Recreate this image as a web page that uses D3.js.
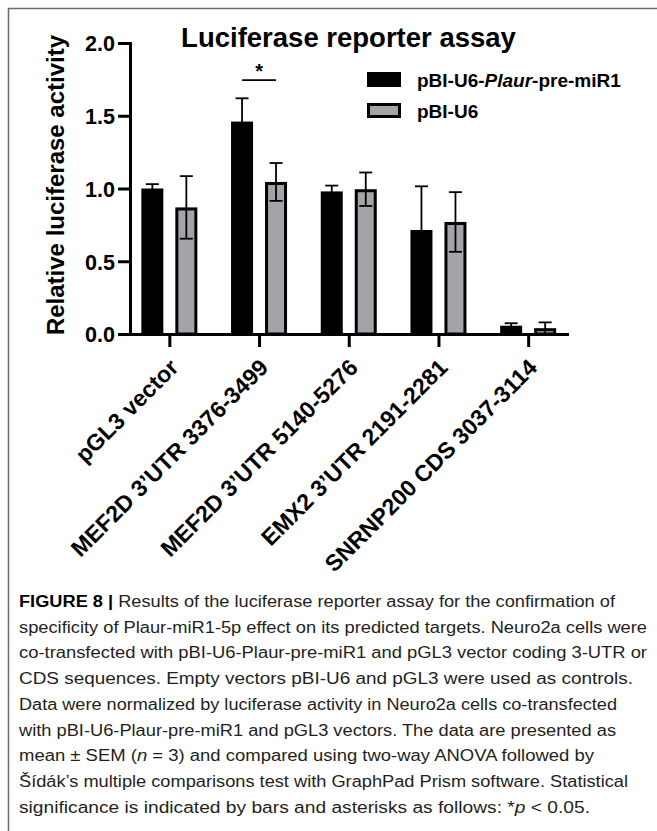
<!DOCTYPE html>
<meta charset="utf-8">
<style>
    body { margin: 0; background: #fff; }
    svg { display: block; font-family: "Liberation Sans", Arial, Helvetica, sans-serif; }
    .axis path, .axis line { stroke: #000; stroke-width: 3; }
    .axis text { font-weight: bold; fill: #000; }
    .err line { stroke: #000; stroke-width: 1.8; }
</style>
<svg width="657" height="831"></svg>
<script src="https://d3js.org/d3.v7.min.js"></script>
<script>

    // data
    var categories = ["pGL3 vector", "MEF2D 3\u2019UTR 3376-3499", "MEF2D 3\u2019UTR 5140-5276",
        "EMX2 3\u2019UTR 2191-2281", "SNRNP200 CDS 3037-3114"];
    var seriesNames = ["pBI-U6-Plaur-pre-miR1", "pBI-U6"];
    var miR1Mean = [1.00, 1.46, 0.98, 0.715, 0.057];
    var miR1Sem = [0.03, 0.16, 0.04, 0.30, 0.017];
    var u6Mean = [0.87, 1.045, 0.995, 0.77, 0.04];
    var u6Sem = [0.215, 0.13, 0.115, 0.205, 0.04];
    var yTicks = [0, 0.5, 1.0, 1.5, 2.0];
    var significance = [{category: categories[1], level: 1.745, label: "*"}];

    var captionLines = [
        "<b>FIGURE 8 |</b> Results of the luciferase reporter assay for the confirmation of",
        "specificity of Plaur-miR1-5p effect on its predicted targets. Neuro2a cells were",
        "co-transfected with pBI-U6-Plaur-pre-miR1 and pGL3 vector coding 3-UTR or",
        "CDS sequences. Empty vectors pBI-U6 and pGL3 were used as controls.",
        "Data were normalized by luciferase activity in Neuro2a cells co-transfected",
        "with pBI-U6-Plaur-pre-miR1 and pGL3 vectors. The data are presented as",
        "mean \u00b1 SEM (<i>n</i> = 3) and compared using two-way ANOVA followed by",
        "\u0160\u00edd\u00e1k\u2019s multiple comparisons test with GraphPad Prism software. Statistical",
        "significance is indicated by bars and asterisks as follows: *<i>p</i> < 0.05."
    ];
    var captionWidths = [596, 628, 628, 614, 598, 597, 575, 609, 571];

    var series = [
        {name: seriesNames[0], mean: miR1Mean, sem: miR1Sem, fill: "#000", dx: -17},
        {name: seriesNames[1], mean: u6Mean, sem: u6Sem, fill: "#a3a3a8", dx: 17}
    ];

    var svg = d3.select("svg");
    var barW = 22, capW = 13;

    var x = d3.scalePoint().domain(categories).range([130.5, 567]).padding(0.433),
        y = d3.scaleLinear().domain([0, 2]).range([334, 43]);

    // frame
    svg.append("path")
        .attr("d", "M8.5,831V8.5H657")
        .attr("fill", "none")
        .attr("stroke", "#6b6b6b")
        .attr("stroke-width", 1.5);

    // bars
    series.forEach(function(s) {
        var rows = categories.map(function(c, i) { return {cat: c, m: s.mean[i], e: s.sem[i]}; });
        var bw = s.fill === "#000" ? 0 : 1.5;
        svg.append("g").selectAll("rect")
            .data(rows)
            .enter().append("rect")
            .attr("x", function(d) { return x(d.cat) + s.dx - barW / 2 + bw; })
            .attr("y", function(d) { return y(d.m) + bw; })
            .attr("width", barW - 2 * bw)
            .attr("height", function(d) { return y(0) - y(d.m) - bw; })
            .attr("fill", s.fill)
            .attr("stroke", bw ? "#000" : "none")
            .attr("stroke-width", 3);
    });

    // error bars
    series.forEach(function(s) {
        var rows = categories.map(function(c, i) { return {cat: c, m: s.mean[i], e: s.sem[i]}; });
        var eg = svg.append("g").attr("class", "err").selectAll("g")
            .data(rows)
            .enter().append("g")
            .attr("transform", function(d) { return "translate(" + (x(d.cat) + s.dx) + ",0)"; });
        eg.append("line")
            .attr("y1", function(d) { return y(Math.max(0, d.m - d.e)); })
            .attr("y2", function(d) { return y(d.m + d.e); });
        eg.append("line")
            .attr("x1", -capW / 2).attr("x2", capW / 2)
            .attr("y1", function(d) { return y(d.m + d.e); })
            .attr("y2", function(d) { return y(d.m + d.e); });
        eg.append("line")
            .attr("x1", -capW / 2).attr("x2", capW / 2)
            .attr("y1", function(d) { return y(Math.max(0, d.m - d.e)); })
            .attr("y2", function(d) { return y(Math.max(0, d.m - d.e)); });
    });

    // axes
    svg.append("g")
        .attr("class", "axis axis--y")
        .attr("transform", "translate(130,0)")
        .call(d3.axisLeft(y).tickValues(yTicks).tickFormat(d3.format(".1f"))
            .tickSize(12).tickSizeOuter(0).tickPadding(3))
        .call(function(g) { g.select(".domain").attr("stroke-linecap", "square"); })
        .selectAll("text")
        .attr("font-size", 21.5)
        .attr("dy", "0.36em");

    svg.append("g")
        .attr("class", "axis axis--x")
        .attr("transform", "translate(0,334)")
        .call(d3.axisBottom(x).tickSize(13).tickSizeOuter(0))
        .call(function(g) { g.select(".domain").attr("stroke-linecap", "square"); })
        .selectAll("text")
        .attr("font-size", 23)
        .attr("text-anchor", "end")
        .attr("y", 0)
        .attr("dy", 0)
        .attr("transform", "translate(10,35) rotate(-45)");

    // significance
    var sig = svg.append("g");
    significance.forEach(function(d) {
        sig.append("line")
            .attr("x1", x(d.category) + series[0].dx)
            .attr("x2", x(d.category) + series[1].dx)
            .attr("y1", y(d.level)).attr("y2", y(d.level))
            .attr("stroke", "#000").attr("stroke-width", 1.8);
        sig.append("text")
            .attr("x", x(d.category))
            .attr("y", y(d.level) - 2)
            .attr("text-anchor", "middle")
            .attr("font-weight", "bold")
            .attr("font-size", 20)
            .text(d.label);
    });

    // title and y label
    svg.append("text")
        .attr("x", 348.5).attr("y", 47)
        .attr("text-anchor", "middle")
        .attr("font-weight", "bold")
        .attr("font-size", 27.5)
        .text("Luciferase reporter assay");

    svg.append("text")
        .attr("transform", "translate(64,185) rotate(-90)")
        .attr("text-anchor", "middle")
        .attr("font-weight", "bold")
        .attr("font-size", 24)
        .text("Relative luciferase activity");

    // legend
    var legend = svg.append("g").selectAll("g")
        .data(series)
        .enter().append("g")
        .attr("transform", function(d, i) { return "translate(367," + (72 + i * 31) + ")"; });
    legend.append("rect")
        .attr("x", function(d) { return d.fill === "#000" ? 0 : 1.5; })
        .attr("y", function(d) { return d.fill === "#000" ? 0 : 1.5; })
        .attr("width", function(d) { return d.fill === "#000" ? 34 : 31; })
        .attr("height", function(d) { return d.fill === "#000" ? 15 : 12; })
        .attr("fill", function(d) { return d.fill; })
        .attr("stroke", "#000")
        .attr("stroke-width", function(d) { return d.fill === "#000" ? 0 : 3; });
    legend.append("text")
        .attr("x", 50).attr("y", 15)
        .attr("font-weight", "bold")
        .attr("font-size", 19)
        .each(function(d) {
            var t = d3.select(this);
            d.name.split(/(Plaur)/).forEach(function(part) {
                if (!part) return;
                t.append("tspan")
                    .attr("font-style", part === "Plaur" ? "italic" : null)
                    .text(part);
            });
        });

    // caption
    var cap = svg.append("g")
        .attr("font-size", 16)
        .attr("fill", "#231f20");
    captionLines.forEach(function(line, i) {
        var t = cap.append("text")
            .attr("x", 19)
            .attr("y", 607 + i * 25.7)
            .attr("textLength", captionWidths[i])
            .attr("lengthAdjust", "spacingAndGlyphs");
        line.split(/(<b>.*?<\/b>|<i>.*?<\/i>)/).forEach(function(part) {
            if (!part) return;
            var ts = t.append("tspan");
            if (part.indexOf("<b>") === 0) {
                ts.attr("font-weight", "bold").attr("fill", "#000").text(part.slice(3, -4));
            } else if (part.indexOf("<i>") === 0) {
                ts.attr("font-style", "italic").text(part.slice(3, -4));
            } else {
                ts.text(part);
            }
        });
    });

</script>
